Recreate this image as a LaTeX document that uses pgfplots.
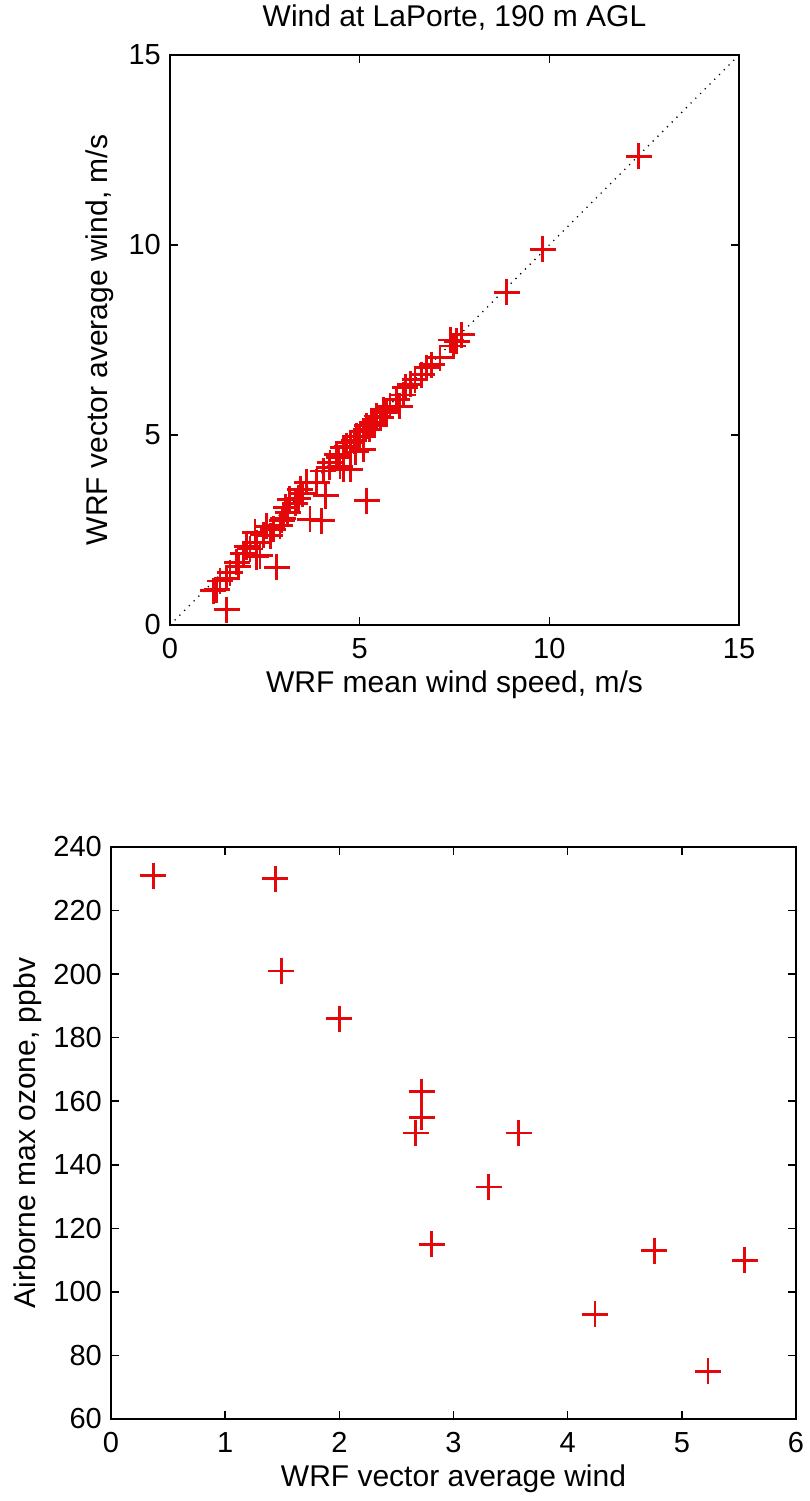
\documentclass[border=0pt]{standalone}
\usepackage{pgfplots}
\pgfplotsset{compat=1.18}
\usepackage{fontspec}
\setmainfont{Liberation Sans}
\definecolor{mred}{RGB}{228,8,10}
\begin{document}
\begin{tikzpicture}
\useasboundingbox (0pt,0pt) rectangle (809pt,1501pt);
\pgfplotsset{
 mstyle/.style={
  scale only axis,
  axis line style={line width=1.6pt},
  every tick/.style={line width=1.6pt, black},
  tick align=inside,
  major tick length=8pt,
  /pgf/number format/assume math mode=true,
  tick label style={font=\fontsize{29}{34}\selectfont, inner sep=0pt},
  xticklabel style={anchor=north, yshift=-13pt},
  yticklabel style={anchor=east, xshift=-9pt},
  label style={font=\fontsize{30}{36}\selectfont},
  title style={font=\fontsize{30}{36}\selectfont},
 }
}
% ---------------- top panel ----------------
\begin{axis}[mstyle,
  at={(170pt,876pt)}, anchor=south west,
  width=569pt, height=570pt,
  xmin=0, xmax=15, ymin=0, ymax=15,
  xtick={0,5,10,15}, ytick={0,5,10,15},
  title={Wind at LaPorte, 190 m AGL},
  title style={at={(axis description cs:0.5,1.056)}, anchor=center},
  xlabel={WRF mean wind speed, m/s},
  xlabel style={at={(axis description cs:0.5,-0.104)}, anchor=center},
  ylabel={WRF vector average wind, m/s},
  ylabel style={at={(axis description cs:-0.123,0.5)}, anchor=center, rotate=0},
]
\addplot[black, line width=1.3pt, dash pattern=on 1.2pt off 5.5pt] coordinates {(0,0) (15,15)};
\addplot[only marks, mark=+, mark size=13pt, mred, line width=2.8pt] coordinates {
(12.36,12.33) (9.83,9.89) (8.88,8.76)
(7.69,7.64) (7.56,7.47) (7.47,7.34) (7.40,7.50) (7.12,7.03) (6.90,6.85) (6.77,6.77) (6.64,6.59)
(6.46,6.46) (6.33,6.33) (6.20,6.25) (6.15,6.05) (5.98,5.94) (6.06,5.76) (5.80,5.76)
(5.62,5.67) (5.70,5.60) (5.55,5.45) (5.45,5.50) (5.40,5.25) (5.32,5.32) (5.25,5.15)
(5.19,5.24) (5.10,5.10) (5.00,4.95) (4.92,4.97) (4.85,4.85) (4.75,4.80) (4.66,4.71)
(4.57,4.67) (4.45,4.40) (4.39,4.49) (4.22,4.27) (4.20,4.15) (4.04,4.05) (3.87,3.75)
(3.60,3.75) (3.50,3.45) (3.43,3.57) (3.38,3.33) (3.30,3.20) (3.16,3.31) (3.05,3.10)
(2.99,2.81) (2.95,2.75) (2.90,2.61) (2.72,2.52) (2.64,2.35) (2.55,2.60) (2.46,2.37)
(2.29,2.17) (2.24,2.44) (2.11,2.00) (2.02,2.06) (1.93,1.88) (1.76,1.65) (1.58,1.38)
(1.32,1.16) (1.14,0.90) (1.23,0.93) (1.49,1.23) (1.49,0.40) (1.80,1.54) (2.28,1.80)
(2.37,1.82) (2.81,1.52) (3.69,2.78) (4.00,2.74) (4.10,3.40) (4.48,4.18) (4.57,4.10)
(4.75,4.10) (5.10,4.62) (4.90,4.55) (5.19,3.27) (3.10,2.95)
};
\end{axis}
% ---------------- bottom panel ----------------
\begin{axis}[mstyle,
  at={(111pt,82pt)}, anchor=south west,
  width=685pt, height=572pt,
  xmin=0, xmax=6, ymin=60, ymax=240,
  xtick={0,1,2,3,4,5,6}, ytick={60,80,100,120,140,160,180,200,220,240},
  xlabel={WRF vector average wind},
  xlabel style={at={(axis description cs:0.5,-0.104)}, anchor=center},
  ylabel={Airborne max ozone, ppbv},
  ylabel style={at={(axis description cs:-0.121,0.5)}, anchor=center, rotate=0},
]
\addplot[only marks, mark=+, mark size=13pt, mred, line width=2.8pt] coordinates {
(0.37,231) (1.44,230) (1.49,201) (2.00,186)
(2.72,163) (2.72,155) (2.67,150) (3.57,150) (3.31,133) (2.81,115)
(4.24,93) (4.76,113) (5.55,110) (5.23,75)
};
\end{axis}
\end{tikzpicture}
\end{document}
